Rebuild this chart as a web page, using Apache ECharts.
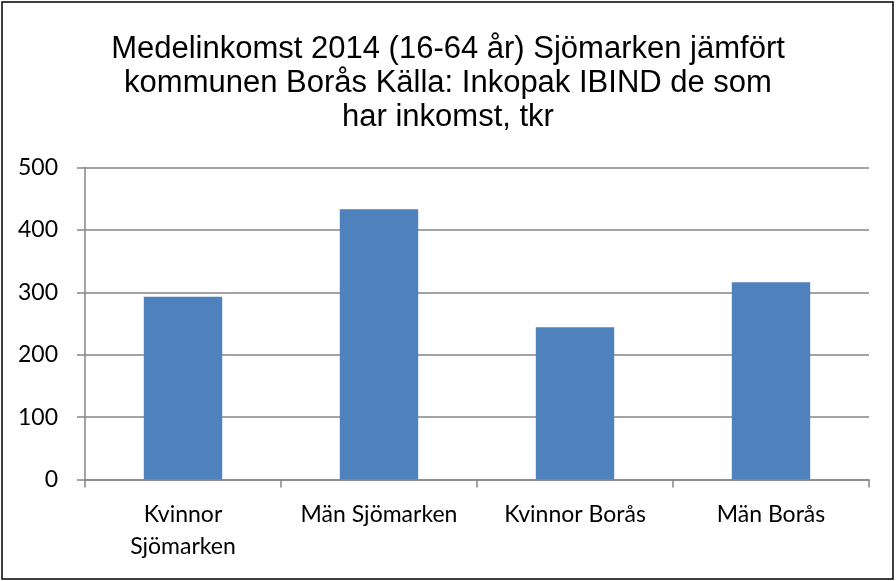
<!DOCTYPE html>
<html>
<head>
<meta charset="utf-8">
<script src="https://cdn.jsdelivr.net/npm/echarts@6/dist/echarts.min.js"></script>
<style>
html,body{margin:0;padding:0;background:#fff;}
#chart{width:896px;height:581px;}
</style>
</head>
<body>
<div id="chart"></div>
<script>
const titleText = "Medelinkomst 2014 (16-64 år) Sjömarken jämfört\nkommunen Borås Källa: Inkopak IBIND de som\nhar inkomst, tkr";
const categories = ["Kvinnor\nSjömarken", "Män Sjömarken", "Kvinnor Borås", "Män Borås"];
const values = [293, 433, 244, 316];
const yMin = 0, yMax = 500, yInterval = 100;

const chart = echarts.init(document.getElementById('chart'), null, {renderer: 'canvas'});
const axisColor = '#868686';
chart.setOption({
  animation: false,
  backgroundColor: '#fff',
  graphic: [{
    type: 'rect',
    shape: {x: 2, y: 2, width: 891, height: 577},
    style: {fill: 'none', stroke: '#000', lineWidth: 1.5},
    silent: true
  }],
  title: {
    text: titleText,
    left: 'center',
    top: 27,
    textStyle: {
      fontFamily: '"Liberation Sans", Arial, sans-serif',
      fontSize: 31,
      fontWeight: 'normal',
      color: '#000',
      lineHeight: 34
    }
  },
  grid: {left: 85, right: 27, top: 167.5, bottom: 101.5, containLabel: false},
  xAxis: {
    type: 'category',
    data: categories,
    axisLine: {show: true, lineStyle: {color: axisColor, width: 1.5}},
    axisTick: {show: true, inside: false, length: 8, alignWithLabel: false, lineStyle: {color: axisColor, width: 1.5}},
    axisLabel: {
      interval: 0,
      margin: 19,
      color: '#000',
      fontFamily: 'Lato, "Open Sans", sans-serif',
      fontSize: 23,
      lineHeight: 32
    },
    splitLine: {show: false}
  },
  yAxis: {
    type: 'value',
    min: yMin, max: yMax, interval: yInterval,
    axisLine: {show: true, lineStyle: {color: axisColor, width: 1.5}},
    axisTick: {show: true, inside: false, length: 8, lineStyle: {color: axisColor, width: 1.5}},
    axisLabel: {
      margin: 27,
      color: '#000',
      fontFamily: 'Lato, "Open Sans", sans-serif',
      fontSize: 23
    },
    splitLine: {show: true, lineStyle: {color: axisColor, width: 1.5}}
  },
  series: [{
    type: 'bar',
    data: values,
    barWidth: '40%',
    itemStyle: {color: '#4F81BD'}
  }]
});
</script>
</body>
</html>
